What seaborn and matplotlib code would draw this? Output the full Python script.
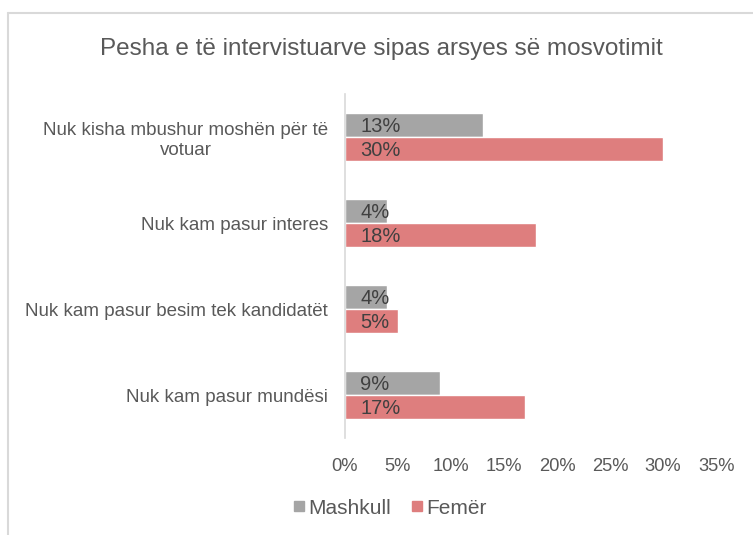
import matplotlib
matplotlib.use("Agg")
import matplotlib.pyplot as plt
import seaborn as sns
import pandas as pd
from matplotlib.lines import Line2D
from matplotlib.ticker import MultipleLocator, FuncFormatter

categories = [
    "Nuk kisha mbushur moshën për të\nvotuar",
    "Nuk kam pasur interes",
    "Nuk kam pasur besim tek kandidatët",
    "Nuk kam pasur mundësi",
]
series_names = ["Mashkull", "Femër"]
mashkull = [13, 4, 4, 9]
femer = [30, 18, 5, 17]
colors = ["#A5A5A5", "#DE7E7E"]
title = "Pesha e të intervistuarve sipas arsyes së mosvotimit"

rows = []
for c, m, f in zip(categories, mashkull, femer):
    rows.append({"cat": c, "gender": series_names[0], "val": m})
    rows.append({"cat": c, "gender": series_names[1], "val": f})
df = pd.DataFrame(rows)

sns.set_theme(style="white")
plt.rcParams["font.family"] = ["Liberation Sans", "DejaVu Sans"]

fig = plt.figure(figsize=(7.53, 5.35), dpi=100)
ax = fig.add_axes([0.458, 0.181, 0.493, 0.643])

sns.barplot(data=df, y="cat", x="val", hue="gender", order=categories,
            hue_order=series_names, palette=colors, orient="h",
            width=0.56, gap=0, saturation=1, ax=ax, legend=False)

for cont in ax.containers:
    for p, v in zip(cont.patches, cont.datavalues):
        ax.annotate(f"{v:g}%", xy=(0, p.get_y() + p.get_height() / 2),
                    xytext=(11, -1), textcoords="offset points",
                    ha="left", va="center", fontsize=14.5, color="#404040")

ax.set_xlim(0, 35)
ax.set_ylim(3.5, -0.5)
ax.xaxis.set_major_locator(MultipleLocator(5))
ax.xaxis.set_major_formatter(FuncFormatter(lambda x, pos: f"{x:g}%"))
ax.set_xlabel("")
ax.set_ylabel("")
for s in ["top", "right", "bottom"]:
    ax.spines[s].set_visible(False)
ax.spines["left"].set_color("#D9D9D9")
ax.spines["left"].set_linewidth(1.2)
ax.tick_params(axis="x", length=0, labelsize=13.2, colors="#595959", pad=14)
ax.tick_params(axis="y", length=0, labelsize=13.5, colors="#595959", pad=12)
for lab in ax.get_yticklabels():
    lab.set_multialignment("center")

fig.text(0.507, 0.909, title, ha="center", va="center", fontsize=17.5, color="#595959")

handles = [Line2D([], [], marker="s", linestyle="", markersize=7,
                  markerfacecolor=c, markeredgecolor=c) for c in colors]
fig.legend(handles, series_names, loc="center", bbox_to_anchor=(0.518, 0.05),
           ncol=2, frameon=False, fontsize=15, handlelength=0.5,
           handletextpad=0.2, columnspacing=1.0, labelcolor="#595959")

# chart border (partially visible in the reference)
fig.add_artist(Line2D([8 / 753, 1.0], [1 - 13 / 535, 1 - 13 / 535],
                      transform=fig.transFigure, color="#D9D9D9", lw=1.5))
fig.add_artist(Line2D([8 / 753, 8 / 753], [0, 1 - 13 / 535],
                      transform=fig.transFigure, color="#D9D9D9", lw=1.5))

fig.savefig("out.png", dpi=100)
